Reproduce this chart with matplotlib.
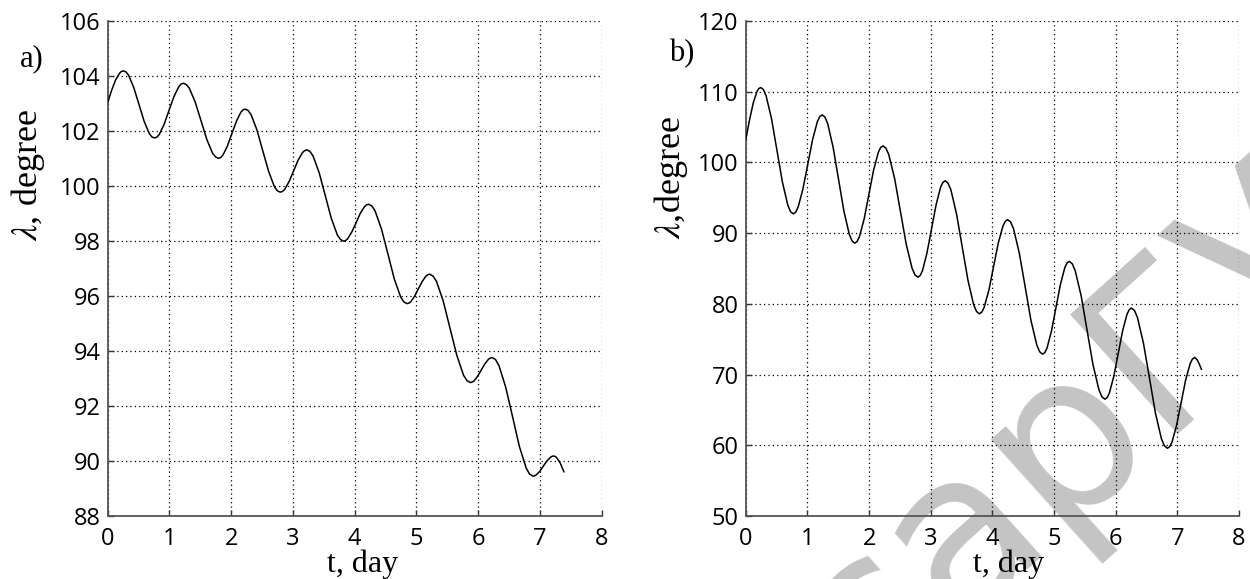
import matplotlib
matplotlib.use('Agg')
import matplotlib.pyplot as plt

# panel a) longitude vs time (one row per half swing)
t_a = [0.0,
       0.064, 0.127, 0.19, 0.222, 0.254,
       0.296, 0.338, 0.422, 0.506, 0.589, 0.673, 0.715, 0.757,
       0.796, 0.835, 0.914, 0.992, 1.070, 1.149, 1.188, 1.227,
       1.274, 1.322, 1.416, 1.511, 1.606, 1.700, 1.748, 1.795,
       1.831, 1.867, 1.939, 2.011, 2.083, 2.155, 2.191, 2.227,
       2.274, 2.322, 2.416, 2.511, 2.606, 2.700, 2.748, 2.795,
       2.831, 2.867, 2.939, 3.011, 3.083, 3.155, 3.191, 3.227,
       3.276, 3.326, 3.425, 3.524, 3.622, 3.721, 3.771, 3.820,
       3.854, 3.888, 3.956, 4.024, 4.091, 4.159, 4.193, 4.227,
       4.279, 4.331, 4.435, 4.539, 4.642, 4.746, 4.798, 4.850,
       4.881, 4.911, 4.972, 5.033, 5.094, 5.155, 5.186, 5.216,
       5.271, 5.326, 5.436, 5.546, 5.656, 5.766, 5.821, 5.876,
       5.905, 5.935, 5.993, 6.052, 6.110, 6.169, 6.198, 6.227,
       6.282, 6.338, 6.448, 6.559, 6.669, 6.780, 6.835, 6.890,
       6.918, 6.946, 7.002, 7.059, 7.115, 7.171, 7.199, 7.227,
       7.255, 7.28, 7.33, 7.39]
lam_a = [103.04,
         103.48, 103.85, 104.09, 104.16, 104.18,
         104.14, 104.02, 103.57, 102.96, 102.35, 101.90, 101.78, 101.74,
         101.77, 101.87, 102.24, 102.74, 103.23, 103.60, 103.70, 103.73,
         103.68, 103.55, 103.05, 102.37, 101.68, 101.18, 101.05, 101.00,
         101.03, 101.12, 101.45, 101.90, 102.34, 102.67, 102.76, 102.79,
         102.74, 102.59, 102.04, 101.28, 100.53, 99.97, 99.82, 99.77,
         99.80, 99.87, 100.16, 100.54, 100.93, 101.21, 101.28, 101.31,
         101.25, 101.09, 100.48, 99.65, 98.82, 98.21, 98.05, 97.99,
         98.01, 98.08, 98.33, 98.66, 99.00, 99.24, 99.31, 99.33,
         99.27, 99.09, 98.43, 97.53, 96.62, 95.96, 95.78, 95.72,
         95.74, 95.79, 95.99, 96.26, 96.52, 96.72, 96.77, 96.79,
         96.72, 96.53, 95.81, 94.82, 93.84, 93.11, 92.92, 92.85,
         92.87, 92.91, 93.08, 93.31, 93.53, 93.70, 93.74, 93.76,
         93.69, 93.47, 92.68, 91.61, 90.53, 89.74, 89.52, 89.45,
         89.46, 89.50, 89.63, 89.82, 90.00, 90.13, 90.17, 90.18,
         90.16, 90.10, 89.93, 89.61]

# panel b)
t_b = [0.0,
       0.061, 0.122, 0.182, 0.213, 0.243,
       0.287, 0.331, 0.419, 0.507, 0.595, 0.683, 0.727, 0.771,
       0.810, 0.849, 0.927, 1.006, 1.084, 1.162, 1.201, 1.240,
       1.284, 1.328, 1.416, 1.504, 1.592, 1.680, 1.724, 1.768,
       1.806, 1.844, 1.921, 1.997, 2.073, 2.150, 2.188, 2.226,
       2.273, 2.320, 2.415, 2.509, 2.603, 2.698, 2.745, 2.792,
       2.829, 2.866, 2.939, 3.013, 3.087, 3.160, 3.197, 3.234,
       3.280, 3.327, 3.419, 3.512, 3.605, 3.697, 3.744, 3.790,
       3.828, 3.866, 3.943, 4.019, 4.095, 4.172, 4.210, 4.248,
       4.295, 4.343, 4.437, 4.532, 4.626, 4.721, 4.768, 4.815,
       4.851, 4.887, 4.959, 5.031, 5.103, 5.175, 5.211, 5.247,
       5.295, 5.343, 5.440, 5.536, 5.632, 5.729, 5.777, 5.825,
       5.861, 5.897, 5.969, 6.041, 6.112, 6.184, 6.220, 6.256,
       6.305, 6.353, 6.450, 6.548, 6.645, 6.742, 6.790, 6.839,
       6.876, 6.913, 6.987, 7.061, 7.134, 7.208, 7.245, 7.282,
       7.32, 7.355, 7.39]
lam_b = [103.17,
         105.98, 108.40, 110.01, 110.43, 110.57,
         110.27, 109.37, 106.11, 101.64, 97.18, 93.91, 93.01, 92.71,
         92.95, 93.65, 96.21, 99.71, 103.20, 105.76, 106.46, 106.70,
         106.39, 105.49, 102.17, 97.64, 93.10, 89.79, 88.88, 88.57,
         88.80, 89.49, 92.01, 95.45, 98.88, 101.40, 102.09, 102.32,
         102.00, 101.08, 97.68, 93.04, 88.40, 85.00, 84.08, 83.76,
         83.99, 84.67, 87.17, 90.57, 93.98, 96.47, 97.15, 97.38,
         97.06, 96.12, 92.68, 87.98, 83.28, 79.84, 78.90, 78.58,
         78.81, 79.47, 81.91, 85.24, 88.56, 91.00, 91.66, 91.89,
         91.57, 90.62, 87.14, 82.39, 77.63, 74.15, 73.20, 72.88,
         73.10, 73.76, 76.16, 79.44, 82.71, 85.11, 85.77, 85.99,
         85.66, 84.69, 81.12, 76.25, 71.38, 67.82, 66.84, 66.51,
         66.73, 67.37, 69.73, 72.95, 76.17, 78.53, 79.17, 79.39,
         79.05, 78.06, 74.44, 69.49, 64.53, 60.91, 59.92, 59.58,
         59.80, 60.44, 62.79, 66.00, 69.20, 71.55, 72.19, 72.41,
         72.1, 71.5, 70.75]

xticks = [0, 1, 2, 3, 4, 5, 6, 7, 8]
yticks_a = [88, 90, 92, 94, 96, 98, 100, 102, 104, 106]
yticks_b = [50, 60, 70, 80, 90, 100, 110, 120]

plt.rcParams['mathtext.fontset'] = 'stix'

fig = plt.figure(figsize=(12.5, 5.79), dpi=100)
ax_a = fig.add_axes([0.0862, 0.1088, 0.395, 0.8553])
ax_b = fig.add_axes([0.5966, 0.1088, 0.3946, 0.8553])

serif = 'Liberation Serif'

panels = [
    (ax_a, t_a, lam_a, yticks_a, 'a)', r'$\lambda$, degree', (-0.161, 0.689), 0.517, (-0.153, 0.923)),
    (ax_b, t_b, lam_b, yticks_b, 'b)', r'$\lambda$,degree', (-0.151, 0.683), 0.532, (-0.129, 0.933)),
]

for ax, t, lam, yt, tag, ylab, ylpos, xlpos, tagpos in panels:
    ax.set_facecolor('none')
    ax.plot(t, lam, color='black', lw=1.1, zorder=3, solid_joinstyle='round')
    ax.set_xlim(xticks[0], xticks[-1])
    ax.set_ylim(yt[0], yt[-1])
    ax.set_xticks(xticks)
    ax.set_yticks(yt)
    ax.grid(True, linestyle=(0, (1, 2.5)), color='black', lw=0.9)
    for side in ['top', 'right']:
        ax.spines[side].set_visible(False)
    for side in ['left', 'bottom']:
        ax.spines[side].set_color('#555555')
        ax.spines[side].set_linewidth(1.3)
    ax.tick_params(direction='in', length=4, width=1, color='#333333',
                   labelsize=17)
    ax.tick_params(axis='x', pad=8)
    ax.tick_params(axis='y', pad=5)
    for lab in ax.get_xticklabels() + ax.get_yticklabels():
        lab.set_fontfamily('Open Sans')

    ax.set_xlabel('t, day', fontsize=23, family=serif)
    ax.xaxis.set_label_coords(xlpos, -0.068)
    ax.set_ylabel(ylab, fontsize=26, family=serif)
    ax.yaxis.label.set_verticalalignment('center')
    ax.yaxis.set_label_coords(*ylpos)
    ax.text(tagpos[0], tagpos[1], tag, transform=ax.transAxes, fontsize=22,
            family=serif, ha='center', va='center')

# site watermark behind the plots
fig.text(0.69, -0.22, 'сарГУ', rotation=42, rotation_mode='anchor',
         fontsize=160, color='#c4c4c4', family='DejaVu Sans',
         ha='left', va='baseline', zorder=-1)

fig.savefig('out.png', dpi=100)
